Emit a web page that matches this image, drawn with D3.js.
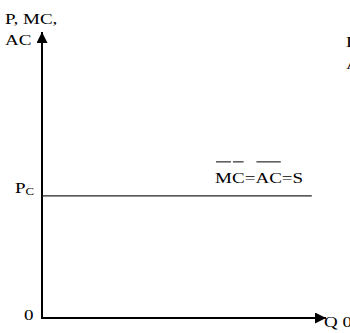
<!DOCTYPE html>
<html>
<head>
<meta charset="utf-8">
<script src="https://cdn.jsdelivr.net/npm/d3@7"></script>
<style>
  html, body { margin: 0; padding: 0; background: #fff; }
  svg { display: block; }
  text { font-family: "Liberation Serif", "Times New Roman", serif; fill: #000; }
</style>
</head>
<body>
<script>
// Long-run supply in a constant-cost industry
const quantityDomain = [0, 10];
const priceDomain = [0, 10];
const competitivePrice = [4.27];          // P_C level
const supplyExtent = [0, 9.5];            // quantity span of the flat MC = AC = S line
const yAxisLabel = ["P, MC,", "AC"];
const xAxisLabel = ["Q 0"];
const originLabel = ["0"];
const edgeLabels = ["D", "A"];

const width = 350, height = 333;
const fontSize = 15, stretch = 1.27;
const svg = d3.select("body").append("svg")
  .attr("width", width).attr("height", height);

const x = d3.scaleLinear().domain(quantityDomain).range([42, 326]);
const y = d3.scaleLinear().domain(priceDomain).range([318, 32]);

// wide serif lettering: text placed at (px, py) and stretched horizontally
function label(px, py) {
  return svg.append("text")
    .attr("transform", `translate(${px},${py}) scale(${stretch},1)`)
    .attr("font-size", fontSize);
}

// arrow head
svg.append("defs").append("marker")
  .attr("id", "arrow")
  .attr("viewBox", "0 0 10 10")
  .attr("refX", 10).attr("refY", 5)
  .attr("markerWidth", 11).attr("markerHeight", 11)
  .attr("markerUnits", "userSpaceOnUse")
  .attr("orient", "auto")
  .append("path").attr("d", "M0,0 L10,5 L0,10 Z").attr("fill", "#000");

const axisG = svg.append("g");
// vertical axis
axisG.append("line")
  .attr("x1", x(0)).attr("y1", y(0) + 1)
  .attr("x2", x(0)).attr("y2", y(priceDomain[1]))
  .attr("stroke", "#000").attr("stroke-width", 2)
  .attr("marker-end", "url(#arrow)");
// horizontal axis
axisG.append("line")
  .attr("x1", x(0) - 1).attr("y1", y(0))
  .attr("x2", x(quantityDomain[1])).attr("y2", y(0))
  .attr("stroke", "#000").attr("stroke-width", 2)
  .attr("marker-end", "url(#arrow)");

// flat long-run supply curve
svg.selectAll("line.supply").data(competitivePrice).enter().append("line")
  .attr("class", "supply")
  .attr("x1", x(supplyExtent[0])).attr("x2", x(supplyExtent[1]))
  .attr("y1", d => y(d)).attr("y2", d => y(d))
  .attr("stroke", "#222").attr("stroke-width", 1.3);

// curve label with overlines on the letters of MC and AC
const pY = y(competitivePrice[0]);
const lab = label(215, pY - 13);
["M", "C", "=", "A", "C", "=S"].forEach(t => lab.append("tspan").text(t));
const tspans = lab.selectAll("tspan").nodes();
[[0, 0], [1, 1], [3, 4]].forEach(([a, b]) => {
  const ba = tspans[a].getBBox(), bb = tspans[b].getBBox();
  svg.append("line")
    .attr("x1", 215 + (ba.x + 0.8) * stretch)
    .attr("x2", 215 + (bb.x + bb.width - 0.8) * stretch)
    .attr("y1", pY - 34).attr("y2", pY - 34)
    .attr("stroke", "#000").attr("stroke-width", 1);
});

// P_C tick label
const pc = label(15, pY - 3);
pc.append("tspan").text("P");
pc.append("tspan").attr("font-size", 10).attr("dy", 2).text("C");

// axis titles
yAxisLabel.forEach((d, i) => label(5, 24 + i * 21).text(d));
xAxisLabel.forEach(d => label(x(quantityDomain[1]) - 2, y(0) + 9).text(d));
originLabel.forEach(d => label(24, y(0) + 2).text(d));

// text continuing beyond the right edge
edgeLabels.forEach((d, i) => label(346, 47 + i * 22).text(d));
</script>
</body>
</html>
